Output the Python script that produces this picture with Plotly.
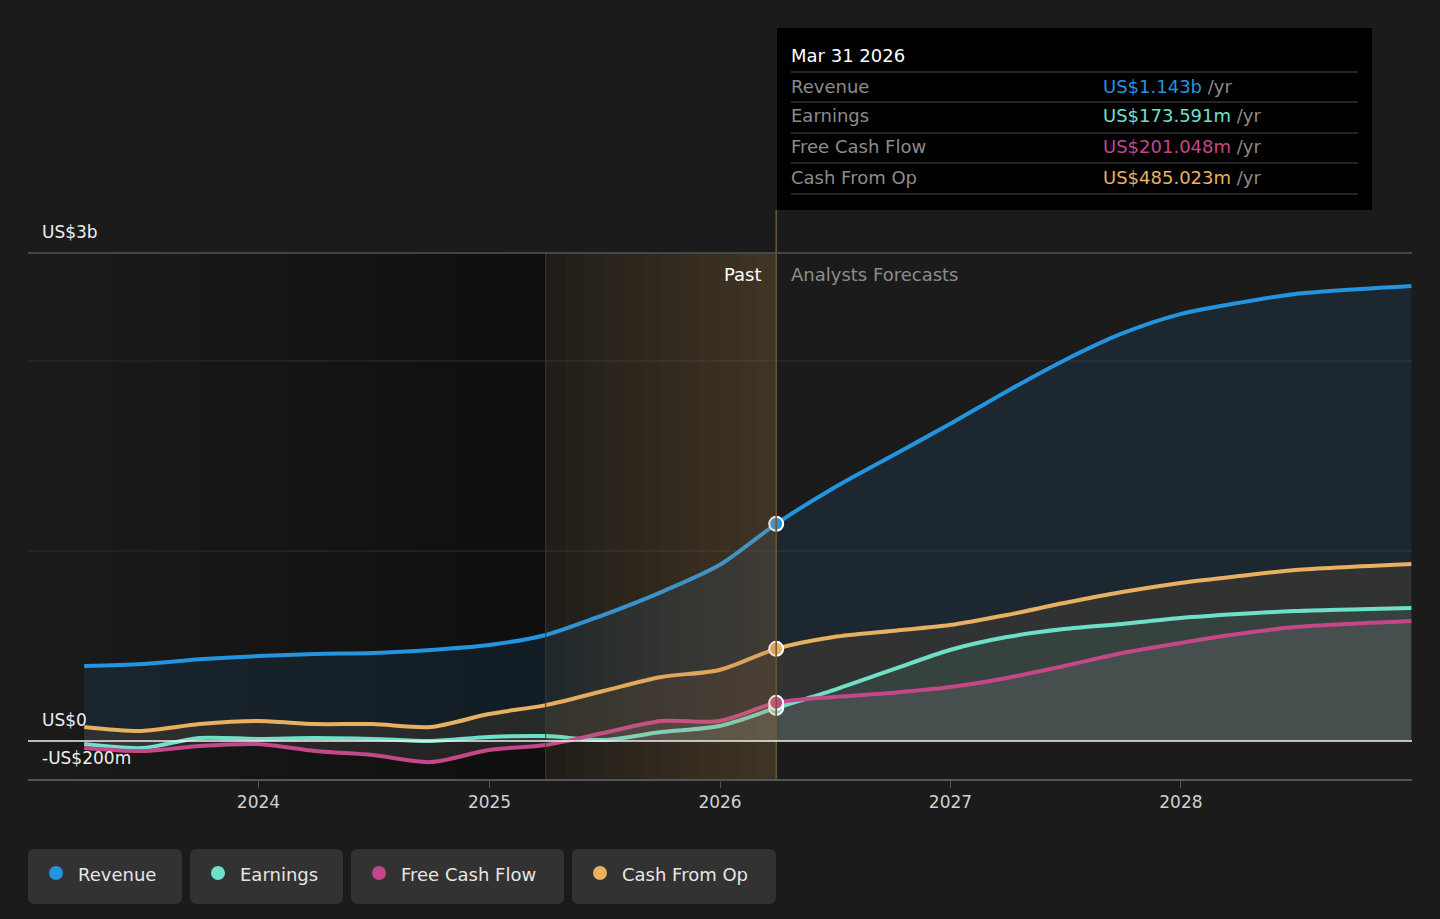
import plotly.graph_objects as go

#%%-----------------------------------------------------------------------
# DATA (US$ billions)

dates = ['2023-03-31', '2023-06-30', '2023-09-30', '2023-12-31',
         '2024-03-31', '2024-06-30', '2024-09-30', '2024-12-31',
         '2025-03-31', '2025-06-30', '2025-09-30', '2025-12-31',
         '2026-03-31',
         '2026-06-30', '2026-09-30', '2026-12-31', '2027-03-31',
         '2027-06-30', '2027-09-30', '2027-12-31', '2028-03-31',
         '2028-06-30', '2028-12-31']

revenue = [0.395, 0.405, 0.43, 0.447, 0.458, 0.463, 0.479, 0.505,
           0.558, 0.663, 0.784, 0.926, 1.143,
           1.332, 1.50, 1.668, 1.84, 2.003, 2.145, 2.247, 2.305, 2.353, 2.395]

earnings = [-0.016, -0.037, 0.016, 0.011, 0.016, 0.011, 0.0, 0.021,
            0.026, 0.005, 0.047, 0.079, 0.174,
            0.268, 0.374, 0.479, 0.547, 0.589, 0.616, 0.647, 0.668, 0.684, 0.70]

free_cash_flow = [-0.037, -0.053, -0.026, -0.016, -0.053, -0.074, -0.111, -0.047,
                  -0.021, 0.042, 0.105, 0.105, 0.201,
                  0.232, 0.253, 0.284, 0.332, 0.395, 0.463, 0.516, 0.563, 0.60, 0.632]

cash_from_op = [0.074, 0.053, 0.089, 0.105, 0.089, 0.089, 0.074, 0.142,
                0.189, 0.263, 0.337, 0.374, 0.485,
                0.547, 0.579, 0.61, 0.663, 0.726, 0.784, 0.832, 0.868, 0.90, 0.932]

series_names = ['Revenue', 'Earnings', 'Free Cash Flow', 'Cash From Op']
series_colors = ['#2394df', '#6fe0c8', '#c4478a', '#e8b060']
tooltip_values = ['US$1.143b', 'US$173.591m', 'US$201.048m', 'US$485.023m']

today = '2026-03-31'
past_start = '2025-03-31'
x_ticks = ['2024-01-01', '2025-01-01', '2026-01-01', '2027-01-01', '2028-01-01']
x_tick_labels = ['2024', '2025', '2026', '2027', '2028']

#%%-----------------------------------------------------------------------
# helpers: pixel -> paper coords (plot area is 28..1412 x 253..779)
L, R, T, B = 28, 1412, 253, 779

def px(x):
    return (x - L) / (R - L)

def py(y):
    return (B - y) / (B - T)

fig = go.Figure()

fills = ['rgba(35,148,223,0.10)', 'rgba(110,225,195,0.09)',
         'rgba(230,200,215,0.10)', 'rgba(225,160,70,0.10)']
series_values = [revenue, earnings, free_cash_flow, cash_from_op]

# draw order: revenue, cash from op, earnings, fcf
for i in [0, 3, 1, 2]:
    fig.add_trace(go.Scatter(
        x=dates, y=series_values[i],
        mode='lines', name=series_names[i],
        line=dict(color=series_colors[i], width=4, shape='spline', smoothing=0.8),
        fill='tozeroy', fillcolor=fills[i],
        hoverinfo='skip', showlegend=False,
    ))

# markers at today
for i in [0, 3, 1, 2]:
    idx = dates.index(today)
    fig.add_trace(go.Scatter(
        x=[today], y=[series_values[i][idx]], mode='markers',
        marker=dict(color=series_colors[i], size=14, line=dict(color='white', width=2)),
        hoverinfo='skip', showlegend=False,
    ))

shapes = []

# dark gradient left of the past band (stacked overlapping strips)
n = 12
for k in range(1, n + 1):
    x0 = L + (546 - L) * (k - 1) / n
    shapes.append(dict(type='rect', xref='paper', yref='paper',
                       x0=px(x0), x1=px(546), y0=0, y1=1, layer='below',
                       fillcolor='#000000', opacity=0.02, line=dict(width=0)))

# past band: dark base + orange gradient above
shapes.append(dict(type='rect', xref='x', yref='paper', x0=past_start, x1=today,
                   y0=0, y1=1, layer='below', fillcolor='#000000', opacity=0.2,
                   line=dict(width=0)))
shapes.append(dict(type='rect', xref='x', yref='paper', x0=past_start, x1=today,
                   y0=0, y1=1, layer='above', fillcolor='#cda055', opacity=0.07,
                   line=dict(width=0)))
n = 12
for k in range(1, n):
    x0 = 546 + (777 - 546) * k / n
    shapes.append(dict(type='rect', xref='paper', yref='paper',
                       x0=px(x0), x1=px(777), y0=0, y1=1, layer='above',
                       fillcolor='#cda055', opacity=0.02, line=dict(width=0)))

# band edges
shapes.append(dict(type='line', xref='x', yref='paper', x0=past_start, x1=past_start,
                   y0=0, y1=1, line=dict(color='#3e3b36', width=1)))
shapes.append(dict(type='line', xref='x', yref='paper', x0=today, x1=today,
                   y0=0, y1=py(210), line=dict(color='#6a5834', width=1.5)))

# gridlines
for yv in [1, 2]:
    shapes.append(dict(type='line', xref='paper', yref='y', x0=0, x1=1, y0=yv, y1=yv,
                       line=dict(color='#2f2f2f', width=1), layer='below'))
shapes.append(dict(type='line', xref='paper', yref='paper', x0=0, x1=1, y0=1, y1=1,
                   line=dict(color='#555555', width=1.5)))
shapes.append(dict(type='line', xref='paper', yref='y', x0=0, x1=1, y0=0, y1=0,
                   line=dict(color='#f0f0f0', width=1.5)))

# tooltip box
shapes.append(dict(type='rect', xref='paper', yref='paper',
                   x0=px(777), x1=px(1372), y0=py(210), y1=py(28),
                   fillcolor='#000000', line=dict(width=0)))
for yl in [72, 102, 133, 163, 194]:
    shapes.append(dict(type='line', xref='paper', yref='paper',
                       x0=px(791), x1=px(1358), y0=py(yl), y1=py(yl),
                       line=dict(color='#4a4a4a', width=1)))

annotations = []
font = 'DejaVu Sans'
annotations.append(dict(text='Mar 31 2026', xref='paper', yref='paper', x=px(789), y=py(55),
                        xanchor='left', yanchor='middle', showarrow=False,
                        font=dict(family=font, size=18, color='#ffffff')))
for i, yr in enumerate([86, 116, 147, 177]):
    annotations.append(dict(text=series_names[i], xref='paper', yref='paper', x=px(789), y=py(yr),
                            xanchor='left', yanchor='middle', showarrow=False,
                            font=dict(family=font, size=18, color='#8c8c8c')))
    annotations.append(dict(text='<span style="color:%s">%s</span> /yr' % (series_colors[i], tooltip_values[i]),
                            xref='paper', yref='paper', x=px(1101), y=py(yr),
                            xanchor='left', yanchor='middle', showarrow=False,
                            font=dict(family=font, size=18, color='#8c8c8c')))

# past / forecast labels
annotations.append(dict(text='Past', xref='paper', yref='paper', x=px(764), y=py(274),
                        xanchor='right', yanchor='middle', showarrow=False,
                        font=dict(family=font, size=18, color='#ffffff')))
annotations.append(dict(text='Analysts Forecasts', xref='paper', yref='paper', x=px(789), y=py(274),
                        xanchor='left', yanchor='middle', showarrow=False,
                        font=dict(family=font, size=18, color='#8c8c8c')))

# y labels
for txt, yy in [('US$3b', 232), ('US$0', 720), ('-US$200m', 758)]:
    annotations.append(dict(text=txt, xref='paper', yref='paper', x=px(40), y=py(yy),
                            xanchor='left', yanchor='middle', showarrow=False,
                            font=dict(family=font, size=17, color='#eeeeee')))

# legend buttons
legend_boxes = [(28, 182), (190, 343), (351, 564), (572, 776)]
for i, (bx0, bx1) in enumerate(legend_boxes):
    w = bx1 - bx0
    h = 55
    r = 7
    path = ('M %d,%d L %d,%d Q %d,%d %d,%d L %d,%d Q %d,%d %d,%d L %d,%d Q %d,%d %d,%d '
            'L %d,%d Q %d,%d %d,%d Z') % (
        r, 0, w - r, 0, w, 0, w, r, w, h - r, w, h, w - r, h,
        r, h, 0, h, 0, h - r, 0, r, 0, 0, r, 0)
    shapes.append(dict(type='path', xref='paper', yref='paper',
                       xsizemode='pixel', ysizemode='pixel',
                       xanchor=px(bx0), yanchor=py(904), path=path,
                       fillcolor='#323232', line=dict(width=0)))
    cx = bx0 + 28
    shapes.append(dict(type='circle', xref='paper', yref='paper',
                       xsizemode='pixel', ysizemode='pixel',
                       xanchor=px(cx), yanchor=py(873), x0=-7, x1=7, y0=-7, y1=7,
                       fillcolor=series_colors[i], line=dict(width=0)))
    annotations.append(dict(text=series_names[i], xref='paper', yref='paper',
                            x=px(bx0 + 48), y=py(874), xanchor='left', yanchor='middle',
                            showarrow=False,
                            font=dict(family=font, size=18, color='#e6e6e6')))

fig.update_layout(
    width=1440, height=919,
    margin=dict(l=L, r=1440 - R, t=T, b=919 - B),
    paper_bgcolor='#1b1b1b', plot_bgcolor='#1b1b1b',
    hovermode=False,
    showlegend=False,
    xaxis=dict(range=['2023-01-01', '2029-01-01'], tickvals=x_ticks, ticktext=x_tick_labels,
               showgrid=False, zeroline=False, showline=True, linecolor='#555555', linewidth=1.5,
               ticks='outside', ticklen=7, tickcolor='#555555',
               tickfont=dict(family=font, size=17, color='#d0d0d0')),
    yaxis=dict(range=[-0.2, 2.5684], showgrid=False, zeroline=False, showticklabels=False,
               fixedrange=True),
    shapes=shapes,
    annotations=annotations,
)

# page body has an 8px default margin; drop it so the figure sits at 0,0
fig.write_html("out.html",
               config=dict(displayModeBar=False),
               post_script="document.body.style.margin='0';"
                           "document.body.style.background='#1b1b1b';"
                           "document.body.style.overflow='hidden';")
